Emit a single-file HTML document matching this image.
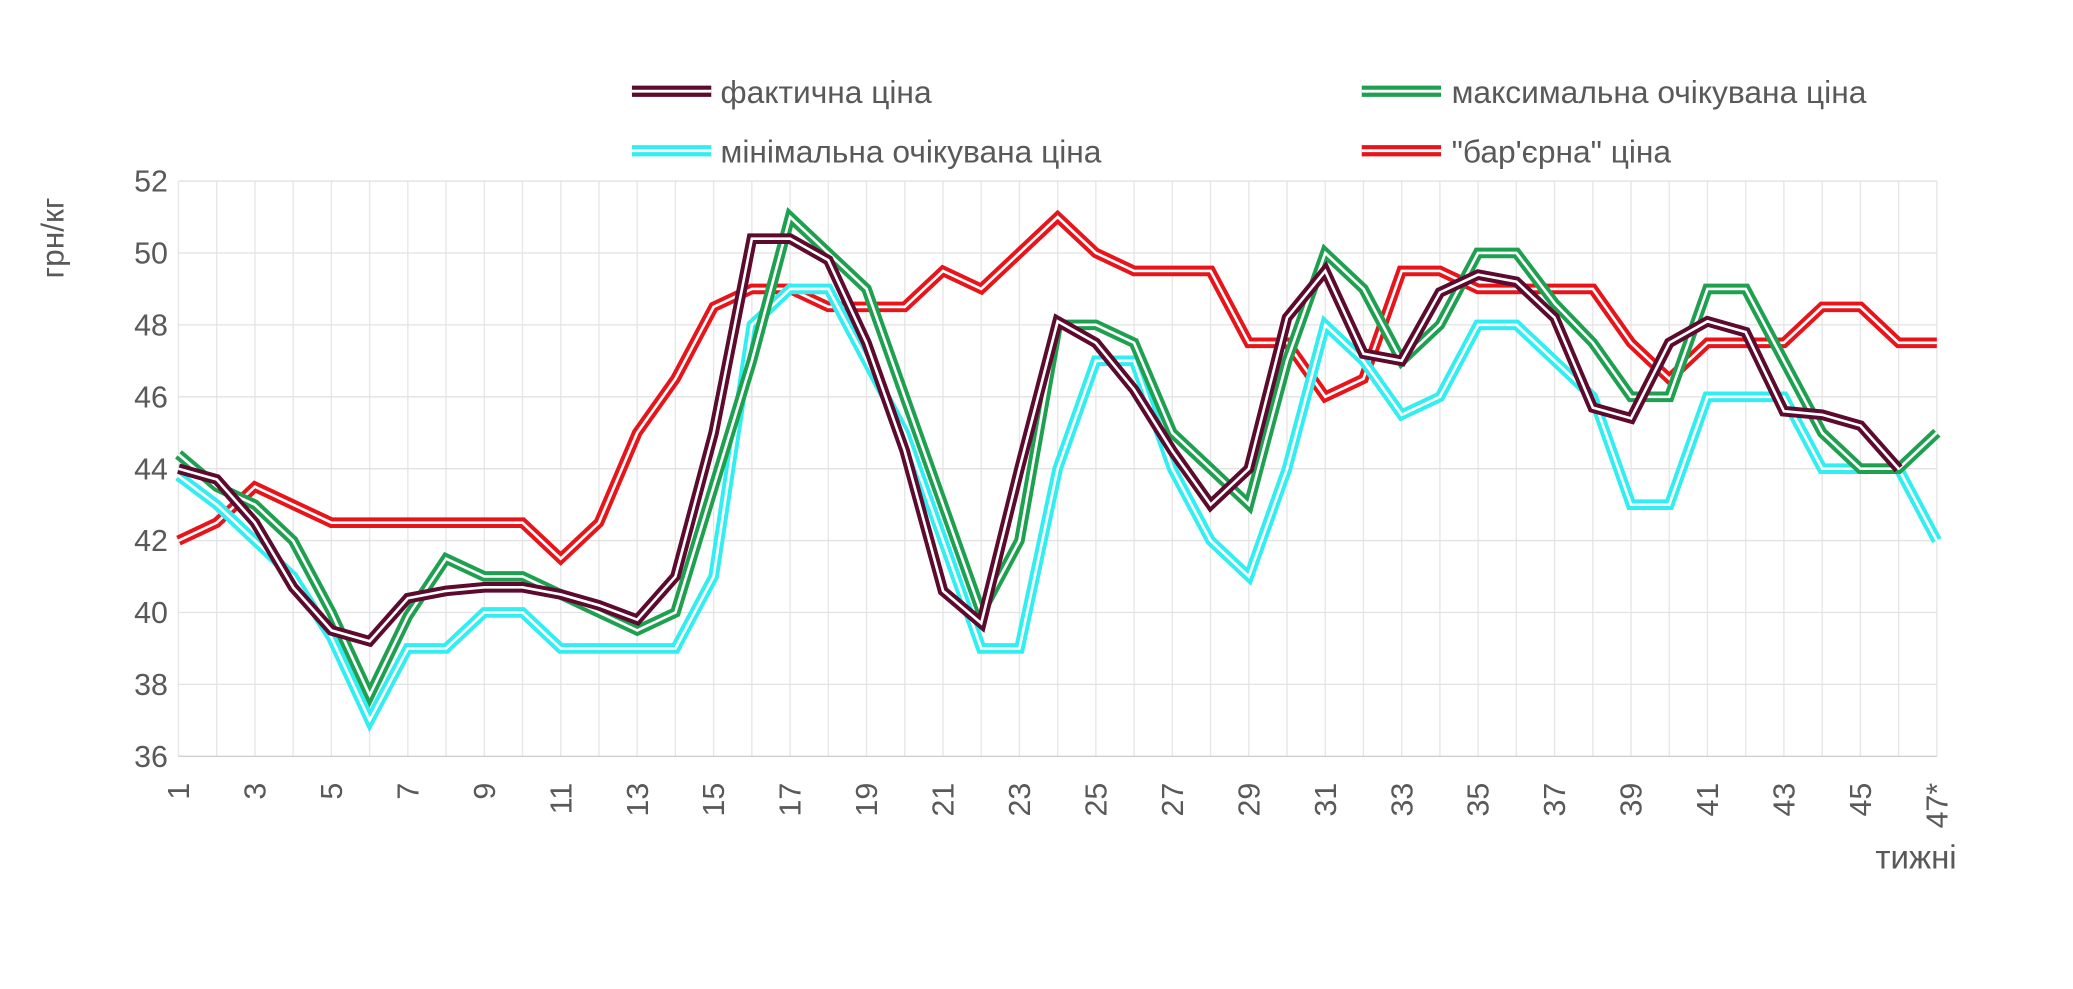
<!DOCTYPE html>
<html><head><meta charset="utf-8"><style>
html,body{margin:0;padding:0;background:#fff;}
svg{display:block;}
text{font-family:"Liberation Sans","DejaVu Sans",sans-serif;fill:#595959;}
</style></head><body>
<svg id="s" width="2073" height="989" viewBox="0 0 1568 748" preserveAspectRatio="none" xmlns="http://www.w3.org/2000/svg">
<g id="grid"></g>
<g id="lines"></g>
<g id="labels"></g>
<text x="0" y="0" transform="translate(48,180) rotate(-90)" font-size="24" text-anchor="middle">грн/кг</text>
<text x="1480" y="657" font-size="25" text-anchor="end">тижні</text>
<g font-size="24">
<line x1="478" y1="69" x2="538" y2="69" stroke="#5c0a2e" stroke-width="8.5"/><line x1="478" y1="69" x2="538" y2="69" stroke="#fff" stroke-width="2.2"/>
<text x="545" y="78">фактична ціна</text>
<line x1="1030" y1="69" x2="1090" y2="69" stroke="#1fa050" stroke-width="8.5"/><line x1="1030" y1="69" x2="1090" y2="69" stroke="#fff" stroke-width="2.2"/>
<text x="1098" y="78">максимальна очікувана ціна</text>
<line x1="478" y1="114" x2="538" y2="114" stroke="#33eef0" stroke-width="8.5"/><line x1="478" y1="114" x2="538" y2="114" stroke="#fff" stroke-width="2.2"/>
<text x="545" y="123">мінімальна очікувана ціна</text>
<line x1="1030" y1="114" x2="1090" y2="114" stroke="#e8141a" stroke-width="8.5"/><line x1="1030" y1="114" x2="1090" y2="114" stroke="#fff" stroke-width="2.2"/>
<text x="1098" y="123">"бар'єрна" ціна</text>
</g>
</svg>
<script>
var NS="http://www.w3.org/2000/svg";
var L=135,R=1465,dx=(R-L)/46;
function X(i){return L+(i-1)*dx;}
function Y(v){return 572-(v-36)*27.19;}
function el(p,t,a){var e=document.createElementNS(NS,t);for(var k in a)e.setAttribute(k,a[k]);p.appendChild(e);return e;}
var g=document.getElementById("grid"),lb=document.getElementById("labels"),ln=document.getElementById("lines");
for(var i=1;i<=47;i++){el(g,"line",{x1:X(i),x2:X(i),y1:Y(52),y2:Y(36),stroke:"#e6e6e6","stroke-width":1});}
for(var v=36;v<=52;v+=2){el(g,"line",{x1:L,x2:R,y1:Y(v),y2:Y(v),stroke:v==36?"#d0d0d0":"#e2e2e2","stroke-width":1});
var t=el(lb,"text",{x:127,y:Y(v)+8,"font-size":23,"text-anchor":"end"});t.textContent=v;}
for(var i=1;i<=47;i+=2){var x=X(i);var t=el(lb,"text",{transform:"translate("+(x+8)+",592) rotate(-90)","font-size":23,"text-anchor":"end"});t.textContent=i==47?"47*":i;}
var data=[
["#e8141a",[42.0,42.5,43.5,43.0,42.5,42.5,42.5,42.5,42.5,42.5,41.5,42.5,45.0,46.5,48.5,49.0,49.0,48.5,48.5,48.5,49.5,49.0,50.0,51.0,50.0,49.5,49.5,49.5,47.5,47.5,46.0,46.5,49.5,49.5,49.0,49.0,49.0,49.0,47.5,46.5,47.5,47.5,47.5,48.5,48.5,47.5,47.5]],
["#33eef0",[43.8,43.0,42.0,41.0,39.3,37.0,39.0,39.0,40.0,40.0,39.0,39.0,39.0,39.0,41.0,48.0,49.0,49.0,47.0,45.0,42.0,39.0,39.0,44.0,47.0,47.0,44.0,42.0,41.0,44.0,48.0,47.0,45.5,46.0,48.0,48.0,47.0,46.0,43.0,43.0,46.0,46.0,46.0,44.0,44.0,44.0,42.0]],
["#1fa050",[44.4,43.5,43.0,42.0,40.0,37.7,39.9,41.5,41.0,41.0,40.5,40.0,39.5,40.0,43.5,47.0,51.0,50.0,49.0,46.0,43.0,40.0,42.0,48.0,48.0,47.5,45.0,44.0,43.0,47.0,50.0,49.0,47.0,48.0,50.0,50.0,48.6,47.5,46.0,46.0,49.0,49.0,47.0,45.0,44.0,44.0,45.0]],
["#5c0a2e",[44.0,43.7,42.5,40.7,39.5,39.2,40.4,40.6,40.7,40.7,40.5,40.2,39.8,41.0,45.0,50.4,50.4,49.8,47.5,44.5,40.6,39.7,44.0,48.1,47.5,46.2,44.5,43.0,44.0,48.2,49.5,47.2,47.0,48.9,49.4,49.2,48.2,45.7,45.4,47.5,48.1,47.8,45.6,45.5,45.2,44.0]]
];
data.forEach(function(d){var p="";d[1].forEach(function(v,i){p+=(i?"L":"M")+X(i+1).toFixed(1)+","+Y(v).toFixed(1);});
el(ln,"path",{d:p,fill:"none",stroke:d[0],"stroke-width":8,"stroke-linejoin":"miter","stroke-miterlimit":4});
el(ln,"path",{d:p,fill:"none",stroke:"#fff","stroke-width":2,"stroke-linejoin":"miter","stroke-miterlimit":4});});
</script>
</body></html>
